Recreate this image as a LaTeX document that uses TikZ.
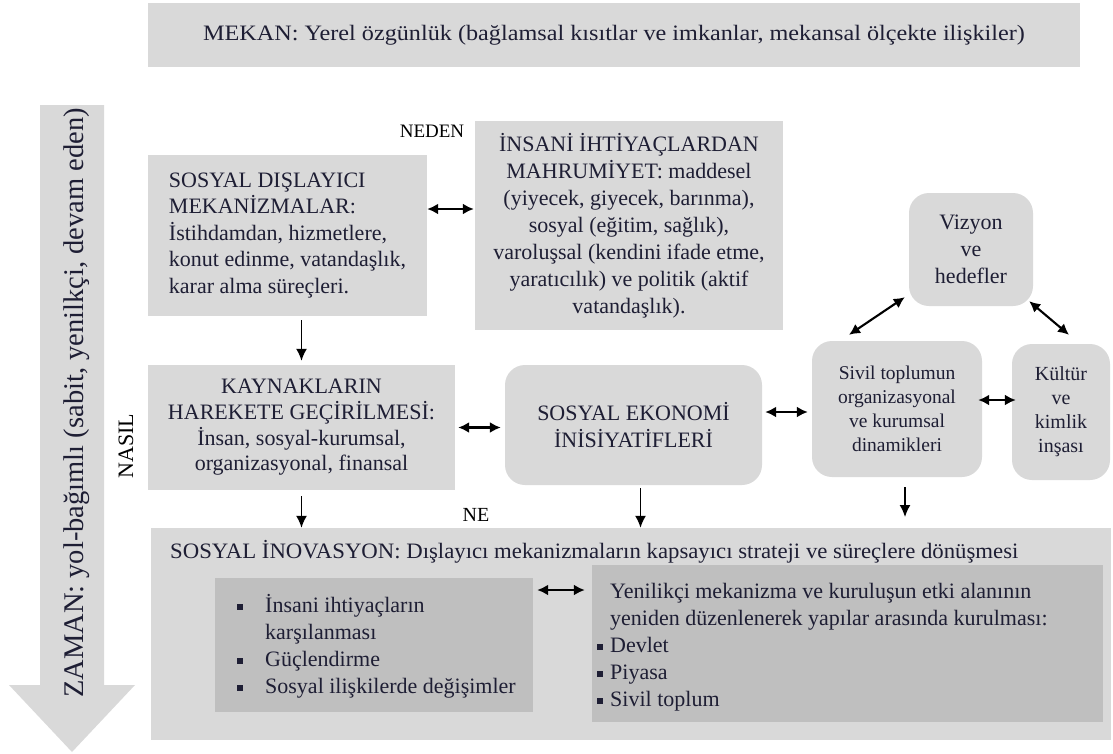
\documentclass[tikz,border=0pt]{standalone}
\usepackage{fontspec}
\setmainfont{Liberation Serif}
\usetikzlibrary{arrows.meta,calc}
\definecolor{boxgray}{HTML}{D9D9D9}
\definecolor{innergray}{HTML}{BFBFBF}
\definecolor{txt}{HTML}{1E1E34}
\newcommand\bul{\raisebox{2.5pt}{\rule{6pt}{6pt}}}
\begin{document}
\begin{tikzpicture}[x=1pt,y=-1pt,
  box/.style={fill=boxgray,draw=none,inner sep=0pt,align=center,text=txt,font=\fontsize{22}{26.5}\selectfont},
  rbox/.style={box,rounded corners=20pt},
  smallbox/.style={rbox,font=\fontsize{19.5}{24}\selectfont},
  inner/.style={fill=innergray,draw=none,inner sep=0pt},
  lbl/.style={text=black,inner sep=0pt,font=\fontsize{19}{22}\selectfont},
  plain/.style={text=txt,inner sep=0pt,font=\fontsize{22}{27}\selectfont},
  dbl/.style={{Latex[length=11pt,width=11pt]}-{Latex[length=11pt,width=11pt]},line width=2.1pt},
  arr/.style={-{Latex[length=12pt,width=11pt]},line width=1.6pt},
]
\useasboundingbox (0,0) rectangle (1113,753);

% banner
\node[box,minimum width=932pt,minimum height=64pt] (mekan) at (614,35)
  {\scalebox{1.1}[1]{MEKAN: Yerel özgünlük (bağlamsal kısıtlar ve imkanlar, mekansal ölçekte ilişkiler)}};

% time arrow
\fill[boxgray] (40,105) -- (104,105) -- (104,685) -- (135,685) -- (72,752) -- (9,685) -- (40,685) -- cycle;
\node[rotate=90,text=txt,inner sep=0pt,font=\fontsize{28.5}{30}\selectfont] (zaman) at (77,403)
  {ZAMAN: yol-bağımlı (sabit, yenilkçi, devam eden)};

% labels
\node[lbl] (neden) at (432,131) {NEDEN};
\node[lbl,rotate=90,font=\fontsize{22}{24}\selectfont] (nasil) at (126,446) {NASIL};
\node[lbl,font=\fontsize{20}{22}\selectfont] (ne) at (476,515) {NE};

% top row
\node[box,minimum width=279pt,minimum height=161pt,align=left] (sdm) at (287.5,235.5)
  {SOSYAL DIŞLAYICI\\MEKANİZMALAR:\\İstihdamdan, hizmetlere,\\konut edinme, vatandaşlık,\\karar alma süreçleri.};
\node[box,minimum width=308pt,minimum height=209pt,font=\fontsize{22}{27}\selectfont] (ihm) at (629,225.5)
  {İNSANİ İHTİYAÇLARDAN\\MAHRUMİYET: maddesel\\(yiyecek, giyecek, barınma),\\sosyal (eğitim, sağlık),\\varoluşsal (kendini ifade etme,\\yaratıcılık) ve politik (aktif\\vatandaşlık).};
\node[rbox,minimum width=124pt,minimum height=113pt,font=\fontsize{22}{27}\selectfont] (viz) at (971,249.5)
  {Vizyon\\ve\\hedefler};

% middle row
\node[box,minimum width=307pt,minimum height=125pt,font=\fontsize{22}{25.7}\selectfont] (kay) at (301.5,427.5)
  {KAYNAKLARIN\\HAREKETE GEÇİRİLMESİ:\\İnsan, sosyal-kurumsal,\\organizasyonal, finansal};
\node[rbox,minimum width=257pt,minimum height=120pt] (se) at (633.5,425)
  {SOSYAL EKONOMİ\\İNİSİYATİFLERİ};
\node[smallbox,minimum width=170pt,minimum height=136pt] (siv) at (897,409)
  {Sivil toplumun\\organizasyonal\\ve kurumsal\\dinamikleri};
\node[smallbox,minimum width=98pt,minimum height=136pt,font=\fontsize{20}{24}\selectfont] (kul) at (1061,412)
  {Kültür\\ve\\kimlik\\inşası};

% bottom
\node[box,minimum width=960pt,minimum height=212pt] (si) at (631,634) {};
\node[plain,anchor=base west] (sititle) at (170,558)
  {\scalebox{1.035}[1]{SOSYAL İNOVASYON: Dışlayıcı mekanizmaların kapsayıcı strateji ve süreçlere dönüşmesi}};
\node[inner,minimum width=318pt,minimum height=134pt] (lin) at (374,645) {};
\node[inner,minimum width=511pt,minimum height=157pt] (rin) at (847.5,643.5) {};
\node[plain,anchor=base west,font=\fontsize{22}{27.3}\selectfont] (llist) at (237,612)
  {\begin{tabular}[t]{@{}l@{\hspace{22pt}}l@{}}
   \bul & İnsani ihtiyaçların\\
        & karşılanması\\
   \bul & Güçlendirme\\
   \bul & Sosyal ilişkilerde değişimler
   \end{tabular}};
\node[plain,anchor=base west,font=\fontsize{22}{27}\selectfont] (rlist) at (597,598)
  {\begin{tabular}[t]{@{}l@{\hspace{7pt}}l@{}}
        & Yenilikçi mekanizma ve kuruluşun etki alanının\\
        & yeniden düzenlenerek yapılar arasında kurulması:\\
   \bul & Devlet\\
   \bul & Piyasa\\
   \bul & Sivil toplum
   \end{tabular}};

% connectors
\draw[dbl,shorten <=0pt,shorten >=1pt] ([yshift=26.5pt]sdm.east) -- ([yshift=26.5pt]sdm.east -| ihm.west);
\draw[dbl,shorten <=3pt,shorten >=4pt] (kay.east) -- (kay.east -| se.west);
\draw[dbl,shorten <=3pt,shorten >=4pt] ([yshift=13pt]se.east) -- ([yshift=13pt]se.east -| siv.west);
\draw[dbl,shorten <=-4pt,shorten >=-4pt] ([yshift=9pt]siv.east) -- ([yshift=9pt]siv.east -| kul.west);
\draw[dbl] ([xshift=-48pt,yshift=6pt]siv.north) -- ([xshift=-4pt,yshift=9pt]viz.south west);
\draw[dbl] ([xshift=-4pt,yshift=5pt]viz.south east) -- ([xshift=8pt,yshift=9pt]kul.north);
\draw[dbl,shorten <=4pt,shorten >=7pt] ([yshift=55pt]lin.east) -- ([yshift=55pt]lin.east -| rin.west);

\draw[arr,shorten <=4pt,shorten >=4pt] (sdm.south -| kay.north) -- (kay.north);
\draw[arr,shorten <=6pt] (kay.south) -- (kay.south |- si.north);
\draw[arr,shorten <=3pt] ([xshift=7pt]se.south) -- ([xshift=7pt]se.south |- si.north);
\coordinate (sivend) at (905,517);
\draw[arr,shorten <=10pt] ([xshift=8pt]siv.south) -- (sivend);
\end{tikzpicture}
\end{document}
